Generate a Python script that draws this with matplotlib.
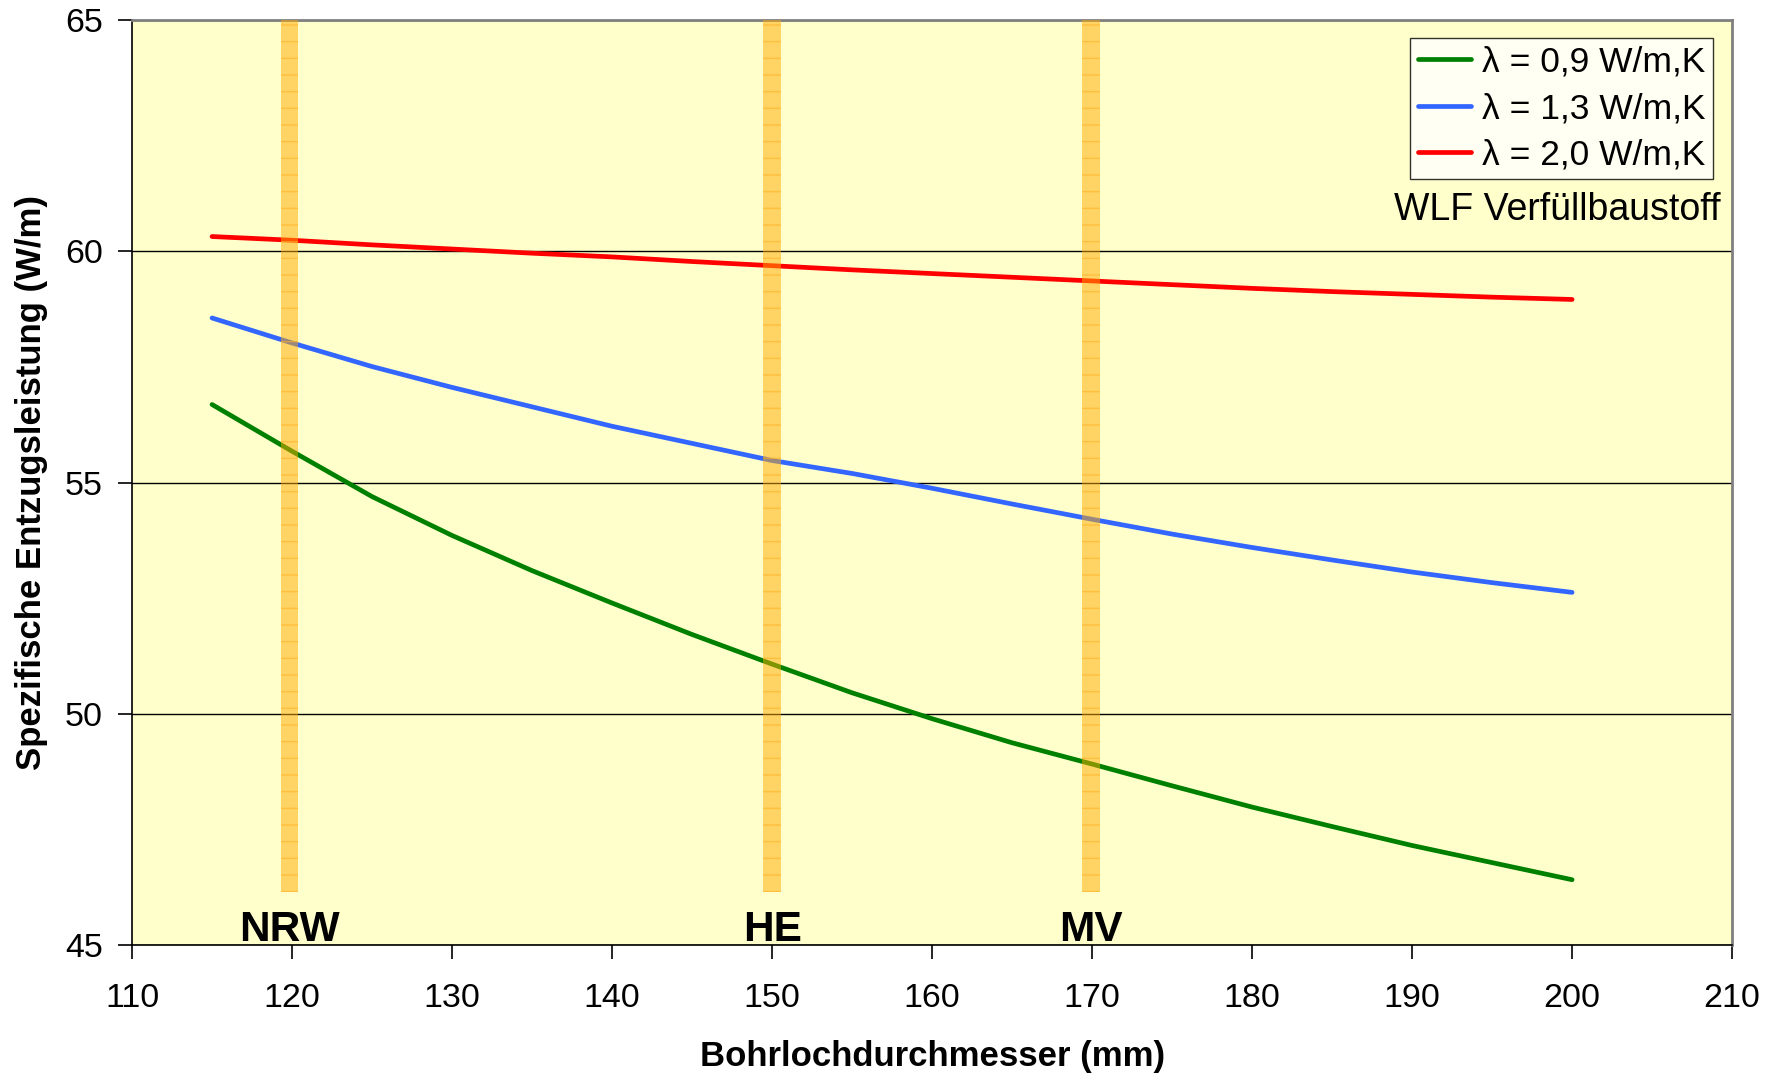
#!/usr/bin/env python3
"""Spezifische Entzugsleistung vs. Bohrlochdurchmesser for three WLF backfill materials."""
import numpy as np
import matplotlib
matplotlib.use("Agg")
import matplotlib.pyplot as plt

plt.rcParams["font.family"] = ["Liberation Sans", "DejaVu Sans"]
plt.rcParams["hatch.linewidth"] = 1.0

# borehole diameter (mm)
DIAMETER = [115, 120, 125, 130, 135, 140, 145, 150, 155, 160,
            165, 170, 175, 180, 185, 190, 195, 200]

# specific extraction rate (W/m)
LAMBDA_09 = [56.69, 55.68, 54.70, 53.86, 53.10, 52.40, 51.72, 51.08, 50.46, 49.90,
             49.38, 48.92, 48.45, 47.99, 47.57, 47.16, 46.79, 46.42]
LAMBDA_13 = [58.56, 58.02, 57.51, 57.06, 56.64, 56.22, 55.85, 55.48, 55.20, 54.88,
             54.54, 54.21, 53.89, 53.60, 53.33, 53.07, 52.84, 52.63]
LAMBDA_20 = [60.32, 60.24, 60.14, 60.05, 59.96, 59.88, 59.78, 59.69, 59.60, 59.52,
             59.44, 59.36, 59.28, 59.20, 59.13, 59.07, 59.01, 58.96]

SERIES = [
    ("λ = 0,9 W/m,K", LAMBDA_09, "#008000"),
    ("λ = 1,3 W/m,K", LAMBDA_13, "#3366FF"),
    ("λ = 2,0 W/m,K", LAMBDA_20, "#FF0000"),
]

# typical borehole diameters per region
REGIONS = ["NRW", "HE", "MV"]
REGION_DIAMETER = [119.85, 150, 169.95]
BAND_BOTTOM = 46.15

fig = plt.figure(figsize=(17.82, 10.74), dpi=100)
ax = fig.add_axes([0.0741, 0.1197, 0.8979, 0.8617])
ax.set_facecolor("#FFFFCC")

for label, vals, color in SERIES:
    ax.plot(DIAMETER, vals, color=color, lw=3.4, label=label,
            solid_capstyle="round", zorder=3)

ax.bar(REGION_DIAMETER, 65 - BAND_BOTTOM, bottom=BAND_BOTTOM, width=1.1,
       color="#FFAA00", alpha=0.5, linewidth=0, zorder=4)
ax.bar(REGION_DIAMETER, 65 - BAND_BOTTOM, bottom=BAND_BOTTOM, width=1.1,
       facecolor="none", edgecolor="#FFB020", hatch="-", linewidth=0,
       alpha=0.6, zorder=4)

for name, xpos in zip(REGIONS, REGION_DIAMETER):
    ax.text(xpos, 45.33, name, ha="center", va="center",
            fontsize=30.5, fontweight="bold", zorder=5)

ax.set_xlim(110, 210)
ax.set_ylim(45, 65)
ax.set_xticks(np.arange(110, 211, 10))
ax.set_yticks(np.arange(45, 66, 5))
ax.yaxis.grid(True, color="black", lw=1.0)
ax.set_axisbelow(True)
ax.tick_params(axis="both", labelsize=24.5, length=10, width=1.2, direction="out")
ax.tick_params(axis="x", pad=17)
ax.tick_params(axis="y", pad=11)

for side in ["top", "right"]:
    ax.spines[side].set_color("#808080")
    ax.spines[side].set_linewidth(2)
for side in ["left", "bottom"]:
    ax.spines[side].set_color("black")
    ax.spines[side].set_linewidth(1.2)

ax.set_xlabel("Bohrlochdurchmesser (mm)", fontsize=25, fontweight="bold")
ax.set_ylabel("Spezifische Entzugsleistung (W/m)", fontsize=25, fontweight="bold")
ax.xaxis.set_label_coords(0.50, -0.12)
ax.xaxis.label.set_verticalalignment("center")
ax.yaxis.set_label_coords(-0.063, 0.5)
ax.yaxis.label.set_verticalalignment("center")

leg = ax.legend(loc="upper right", bbox_to_anchor=(0.988, 0.9806), borderaxespad=0,
                fontsize=25.5, frameon=True, fancybox=False, edgecolor="black",
                handlelength=1.5, handletextpad=0.3, labelspacing=0.38,
                borderpad=0.22)
leg.get_frame().set_linewidth(1.0)
ax.text(0.891, 0.795, "WLF Verfüllbaustoff", transform=ax.transAxes,
        ha="center", va="center", fontsize=27)

fig.savefig("out.png", dpi=100)
